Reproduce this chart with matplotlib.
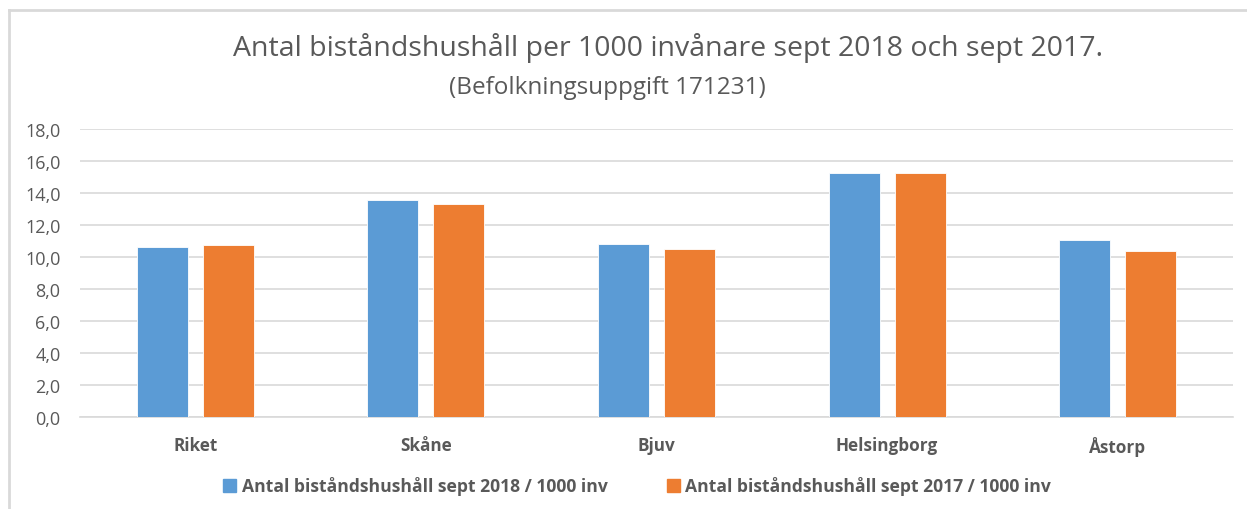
import matplotlib
matplotlib.use("Agg")
import matplotlib.pyplot as plt
import numpy as np
from matplotlib.lines import Line2D
from matplotlib.patches import Patch

categories = ["Riket", "Skåne", "Bjuv", "Helsingborg", "Åstorp"]
values_2018 = [10.62, 13.54, 10.81, 15.27, 11.08]
values_2017 = [10.75, 13.33, 10.50, 15.27, 10.39]
series_names = ["Antal biståndshushåll sept 2018 / 1000 inv",
                "Antal biståndshushåll sept 2017 / 1000 inv"]
yticks = np.arange(0, 18.1, 2)

blue = "#5b9bd5"
orange = "#ed7d31"
txt = "#595959"
font = "Open Sans"

W, H = 1247, 510
fig = plt.figure(figsize=(W / 100, H / 100), dpi=100)
ax = fig.add_axes([80 / W, 1 - 418 / H, (1233 - 80) / W, (418 - 130) / H])

x = np.arange(len(categories))
bw = 0.221
off = 0.143
ax.bar(x - off, values_2018, bw, color=blue, edgecolor="white", linewidth=0.6, zorder=3)
ax.bar(x + off, values_2017, bw, color=orange, edgecolor="white", linewidth=0.6, zorder=3)

ax.set_xlim(-0.5, len(categories) - 0.5)
ax.set_ylim(0, 18)
ax.set_yticks(yticks)
ax.set_yticklabels([f"{v:.1f}".replace(".", ",") for v in yticks],
                   fontsize=13, color=txt, family=font)
ax.set_xticks(x)
ax.set_xticklabels(categories, fontsize=12.3, color=txt, family=font, fontweight="bold")
ax.tick_params(axis="both", length=0)
ax.tick_params(axis="y", pad=14)
ax.tick_params(axis="x", pad=14)
ax.grid(axis="y", color="#d9d9d9", linewidth=1.2, zorder=0)
for s in ["top", "right", "left"]:
    ax.spines[s].set_visible(False)
ax.spines["bottom"].set_color("#d9d9d9")
ax.spines["bottom"].set_linewidth(1.2)

fig.text(0.536, 1 - 48 / H, "Antal biståndshushåll per 1000 invånare sept 2018 och sept 2017.",
         ha="center", va="center", fontsize=20.5, color=txt, family=font)
fig.text(0.487, 1 - 88 / H, "(Befolkningsuppgift 171231)",
         ha="center", va="center", fontsize=17.5, color=txt, family=font)

handles = [Patch(color=blue), Patch(color=orange)]
fig.legend(handles, series_names, loc="center", bbox_to_anchor=(0.511, 1 - 487 / H),
           ncol=2, frameon=False, handlelength=0.75, handleheight=0.75,
           handletextpad=0.3, columnspacing=3.4,
           prop={"family": font, "weight": "bold", "size": 12.6},
           labelcolor=txt)

# chart border (top and left visible)
fig.add_artist(Line2D([9 / W, 9 / W], [0, 1 - 10.5 / H], transform=fig.transFigure,
                      color="#d9d9d9", linewidth=2))
fig.add_artist(Line2D([9 / W, 1], [1 - 10.5 / H, 1 - 10.5 / H], transform=fig.transFigure,
                      color="#d9d9d9", linewidth=2))

fig.savefig("out.png", dpi=100)
